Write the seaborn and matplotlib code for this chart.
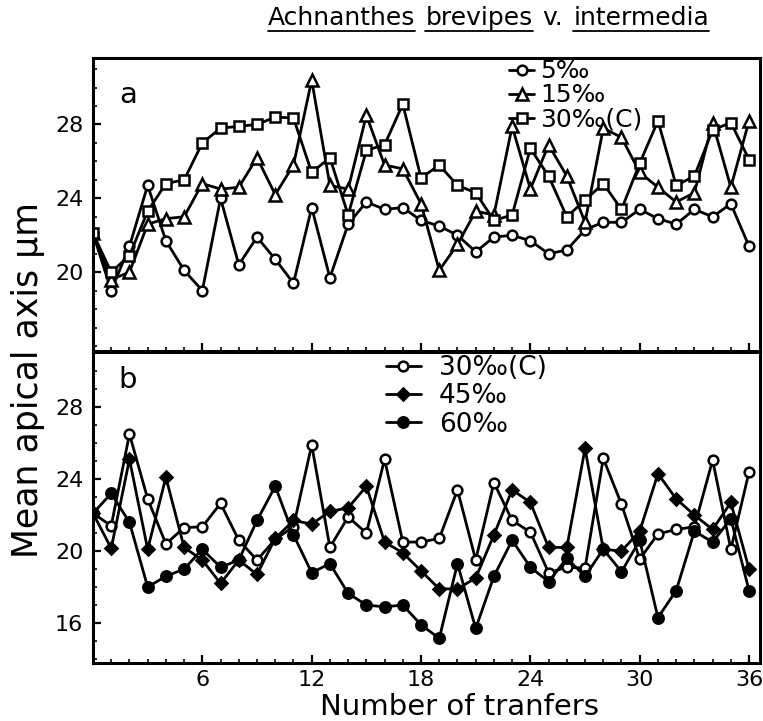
import numpy as np
import pandas as pd
import seaborn as sns
import matplotlib
matplotlib.use("Agg")
import matplotlib.pyplot as plt
from matplotlib.lines import Line2D
from matplotlib.ticker import MultipleLocator, FixedLocator

# Number of transfers
transfers = list(range(37))

# Panel a: mean apical axis (um) at low salinities
sal_5 = [22.1, 19.0, 21.4, 24.7, 21.7, 20.1, 19.0, 24.0, 20.4, 21.9, 20.7, 19.4,
         23.5, 19.7, 22.6, 23.8, 23.4, 23.5, 22.8, 22.5, 22.0, 21.1, 21.9, 22.0,
         21.7, 21.0, 21.2, 22.3, 22.7, 22.7, 23.4, 22.9, 22.6, 23.4, 23.0, 23.7, 21.4]
sal_15 = [22.1, 19.6, 20.0, 22.6, 22.9, 23.0, 24.8, 24.5, 24.6, 26.2, 24.2, 25.8,
          30.4, 24.7, 24.5, 28.5, 25.8, 25.6, 23.7, 20.1, 21.5, 23.3, 23.1, 27.9,
          24.5, 26.9, 25.2, 22.7, 27.8, 27.3, 25.4, 24.6, 23.8, 24.3, 28.1, 24.6, 28.2]
sal_30a = [22.1, 20.0, 20.9, 23.3, 24.8, 25.0, 27.0, 27.8, 27.9, 28.0, 28.4, 28.35,
           25.4, 26.2, 23.1, 26.6, 26.9, 29.1, 25.1, 25.8, 24.7, 24.3, 22.8, 23.1,
           26.7, 25.2, 23.0, 23.9, 24.8, 23.4, 25.9, 28.2, 24.7, 25.2, 27.7, 28.1, 26.1]

# Panel b: control and high salinities
sal_30b = [22.1, 21.4, 26.5, 22.9, 20.4, 21.3, 21.35, 22.65, 20.6, 19.5, 20.65, 21.35,
           25.9, 20.2, 21.9, 21.0, 25.1, 20.5, 20.5, 20.7, 23.4, 19.5, 23.8, 21.7,
           21.05, 18.8, 19.1, 19.05, 25.15, 22.6, 19.55, 20.95, 21.2, 21.35, 25.05, 20.1, 24.4]
sal_45 = [22.1, 20.15, 25.1, 20.1, 24.1, 20.2, 19.5, 18.2, 19.5, 18.7, 20.7, 21.7,
          21.5, 22.2, 22.4, 23.6, 20.5, 19.9, 18.9, 17.9, 17.9, 18.5, 20.9, 23.4,
          22.7, 20.2, 20.2, 25.7, 20.1, 20.0, 21.1, 24.3, 22.9, 22.0, 21.2, 22.7, 19.0]
sal_60 = [22.1, 23.2, 21.6, 18.0, 18.6, 19.0, 20.1, 19.1, 19.5, 21.7, 23.6, 20.9,
          18.8, 19.3, 17.65, 17.0, 16.9, 17.0, 15.9, 15.15, 19.3, 15.7, 18.6, 20.6,
          19.1, 18.3, 19.6, 18.6, 20.1, 18.85, 20.6, 16.3, 17.8, 21.1, 20.5, 21.8, 17.8]

labels_a = ["5\u2030", "15\u2030", "30\u2030(C)"]
labels_b = ["30\u2030(C)", "45\u2030", "60\u2030"]
x_ticks = [6, 12, 18, 24, 30, 36]
y_ticks_a = [20, 24, 28]
y_ticks_b = [16, 20, 24, 28]

sns.set_style("ticks")
plt.rcParams["font.family"] = ["DejaVu Sans"]
plt.rcParams["axes.linewidth"] = 2.2
for key in ("text.color", "axes.labelcolor", "xtick.color", "ytick.color"):
    plt.rcParams[key] = "black"

W, H = 763, 721
fig = plt.figure(figsize=(W / 100, H / 100), dpi=100)


def box(l, t, r, b):
    return [l / W, 1 - b / H, (r - l) / W, (b - t) / H]


ax_a = fig.add_axes(box(93, 58, 760, 351))
ax_b = fig.add_axes(box(93, 352, 760, 663))

styles_a = [
    dict(marker="o", markersize=7, markerfacecolor="white"),
    dict(marker="^", markersize=8, markerfacecolor="white"),
    dict(marker="s", markersize=6.5, markerfacecolor="white"),
]
styles_b = [
    dict(marker="o", markersize=7, markerfacecolor="white"),
    dict(marker="D", markersize=6.5, markerfacecolor="black"),
    dict(marker="o", markersize=7.5, markerfacecolor="black"),
]

common = dict(color="black", linewidth=2.0, markeredgecolor="black",
              markeredgewidth=1.8)

df_a = pd.DataFrame({"t": transfers, labels_a[0]: sal_5,
                     labels_a[1]: sal_15, labels_a[2]: sal_30a})
df_b = pd.DataFrame({"t": transfers, labels_b[0]: sal_30b,
                     labels_b[1]: sal_45, labels_b[2]: sal_60})

for lab, st in zip(labels_a, styles_a):
    sns.lineplot(data=df_a, x="t", y=lab, ax=ax_a, **common, **st)
for lab, st in zip(labels_b, styles_b):
    sns.lineplot(data=df_b, x="t", y=lab, ax=ax_b, **common, **st)

for ax in (ax_a, ax_b):
    ax.set_xlim(0, 36.6)
    ax.set_xlabel("")
    ax.set_ylabel("")
    for s in ax.spines.values():
        s.set_visible(True)
        s.set_color("black")
    ax.xaxis.set_major_locator(FixedLocator(x_ticks))
    ax.xaxis.set_minor_locator(MultipleLocator(1))
    ax.yaxis.set_minor_locator(MultipleLocator(1))
    ax.tick_params(which="major", direction="in", length=6, width=1.6,
                   labelsize=16, top=False, right=False)
    ax.tick_params(axis="y", which="major", pad=7)
    ax.tick_params(axis="x", which="major", pad=5)
    ax.tick_params(which="minor", direction="in", length=3, width=1.2,
                   top=False, right=False)

ax_a.set_ylim(15.73, 31.6)
ax_a.yaxis.set_major_locator(FixedLocator(y_ticks_a))
ax_a.tick_params(axis="x", labelbottom=False)

ax_b.set_ylim(13.78, 31.06)
ax_b.yaxis.set_major_locator(FixedLocator(y_ticks_b))

fig.text(128 / W, 1 - 95 / H, "a", fontsize=21, ha="center", va="center")
fig.text(128 / W, 1 - 380 / H, "b", fontsize=21, ha="center", va="center")


def handles(styles):
    return [Line2D([], [], **common, **st) for st in styles]


ax_a.legend(handles(styles_a), labels_a, loc="upper left",
            bbox_to_anchor=(508 / W, 1 - 58 / H), bbox_transform=fig.transFigure,
            frameon=False, fontsize=18, handlelength=1.0, handletextpad=0.25,
            labelspacing=0.0, borderpad=0.05, borderaxespad=0)
ax_b.legend(handles(styles_b), labels_b, loc="upper left",
            bbox_to_anchor=(385 / W, 1 - 354 / H), bbox_transform=fig.transFigure,
            frameon=False, fontsize=19, handlelength=1.3, handletextpad=0.7,
            labelspacing=0.08, borderpad=0.05, borderaxespad=0)

fig.text(28 / W, 1 - 380 / H, "Mean apical axis \u03bcm", rotation=90,
         ha="center", va="center", fontsize=25)
fig.text(460 / W, 1 - 707 / H, "Number of tranfers", ha="center",
         va="center", fontsize=21)

# Title: words placed one after another, with the taxon names underlined
words = [("Achnanthes", True), ("brevipes", True), ("v.", False),
         ("intermedia", True)]
fig.canvas.draw()
renderer = fig.canvas.get_renderer()
xpos = 268
ytitle = H - 18
space = 10
for word, underline in words:
    t = fig.text(xpos / W, ytitle / H, word, fontsize=18, ha="left",
                 va="center")
    bb = t.get_window_extent(renderer)
    if underline:
        fig.add_artist(Line2D([bb.x0 / W, bb.x1 / W],
                              [(bb.y0 - 1) / H, (bb.y0 - 1) / H],
                              transform=fig.transFigure, color="black",
                              linewidth=1.3))
    xpos = bb.x1 + space

fig.savefig("out.png", dpi=100)
